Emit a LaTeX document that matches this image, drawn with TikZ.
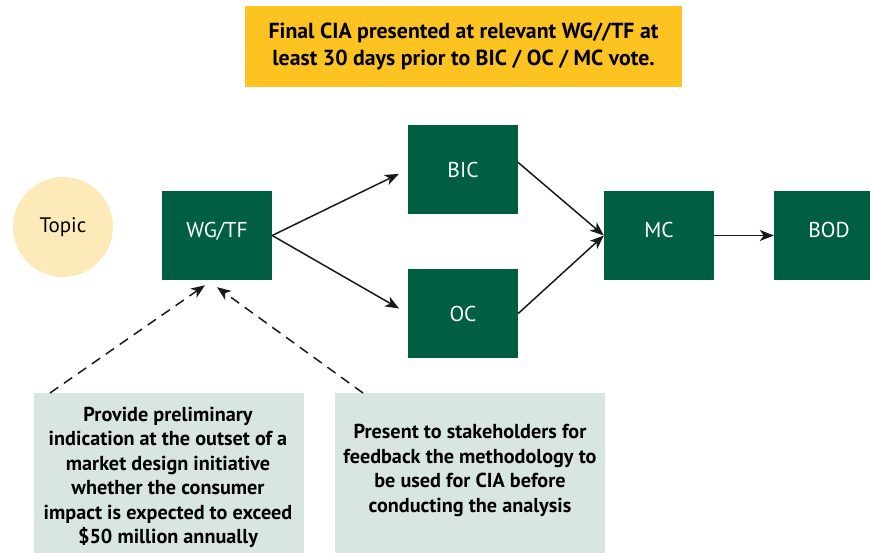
\documentclass[tikz,border=0pt]{standalone}
\usepackage{fontspec}
\setmainfont{PT Sans}
\usetikzlibrary{arrows.meta,calc}
\definecolor{dkgreen}{HTML}{005E43}
\definecolor{gold}{HTML}{FCC321}
\definecolor{paleyellow}{HTML}{FCEBB8}
\definecolor{palegreen}{HTML}{D8E5E0}
\tikzset{
  gbox/.style={fill=dkgreen, text=white, minimum width=110pt, minimum height=89pt, inner sep=0pt, font=\fontsize{21.5}{24}\selectfont},
  note/.style={fill=palegreen, inner sep=0pt, font=\bfseries\fontsize{20.2}{24.5}\selectfont, align=center},
  arr/.style={-{Stealth[length=14pt,width=11pt,inset=4pt]}, line width=1.5pt, black!90},
  darr/.style={arr, dash pattern=on 10pt off 7pt}
}
\begin{document}
\begin{tikzpicture}[x=1pt,y=-1pt]
\useasboundingbox (0,0) rectangle (870,552);
% top banner
\node[fill=gold, minimum width=437pt, minimum height=81pt, inner sep=0pt, align=center,
      font=\bfseries\fontsize{21.8}{27}\selectfont] (banner) at (463.5,46.5)
  {Final CIA presented at relevant WG//TF at\\least 30 days prior to BIC / OC / MC vote.};
% topic
\node[circle, fill=paleyellow, minimum size=100pt, inner sep=0pt, font=\fontsize{21}{24}\selectfont] (topic) at (63,227) {Topic};
% green boxes
\node[gbox] (wg) at (217,235.5) {\raisebox{12pt}{WG/TF}};
\node[gbox] (bic) at (463,169.5) {BIC};
\node[gbox] (oc) at (463,313.5) {OC};
\node[gbox] (mc) at (659,235.5) {\raisebox{12pt}{MC}};
\node[gbox] (bod) at (829,235.5) {\raisebox{12pt}{BOD}};
% notes
\node[note, minimum width=270pt, minimum height=160pt, anchor=north west] (n1) at (34,393) {};
\node[note, anchor=center] (t1) at (168,477.5) {Provide preliminary\\indication at the outset of a\\market design initiative\\whether the consumer\\impact is expected to exceed\\\$50 million annually};
\node[note, minimum width=270pt, minimum height=160pt, anchor=north west] (n2) at (335,393) {};
\node[note, anchor=center] (t2) at (470,470.5) {Present to stakeholders for\\feedback the methodology to\\be used for CIA before\\conducting the analysis};
% connectors
\draw[arr, shorten >=10pt] (wg.east) -- (bic.west);
\draw[arr, shorten >=10pt] (wg.east) -- (oc.west);
\draw[arr] ([yshift=7pt]bic.east) -- (mc.west);
\draw[arr] (oc.east) -- (mc.west);
\draw[arr] (mc.east) -- (bod.west);
\coordinate (s1) at ([xshift=16pt]n1.north west);
\coordinate (s2) at ([xshift=28pt]n2.north west);
\coordinate (e1) at ([xshift=-12pt,yshift=-5pt]wg.south);
\coordinate (e2) at ([yshift=-7pt]wg.south);
\draw[darr] (s1) -- (e1);
\draw[darr] (s2) -- (e2);
\end{tikzpicture}
\end{document}
